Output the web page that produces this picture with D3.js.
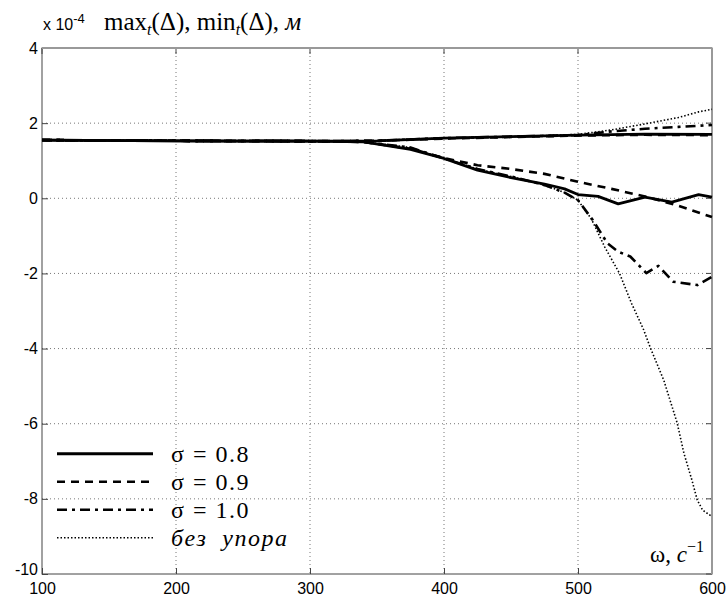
<!DOCTYPE html>
<html>
<head>
<meta charset="utf-8">
<script src="https://cdn.jsdelivr.net/npm/d3@7"></script>
<style>
  body { margin: 0; background: #fff; }
  svg { display: block; }
  .tick text { font-family: "Liberation Sans", Arial, sans-serif; font-size: 16px; fill: #000; }
</style>
</head>
<body>
<div id="chart"></div>
<script>
// values in units of 1e-4 m, omega in 1/s
const xTicks = [100, 200, 300, 400, 500, 600];
const yTicks = [4, 2, 0, -2, -4, -6, -8, -10];

const maxS08 = [[100, 1.55], [200, 1.53], [300, 1.52], [350, 1.53], [400, 1.6], [450, 1.64], [500, 1.68], [550, 1.71], [600, 1.70]];
const maxS09 = [[100, 1.55], [200, 1.53], [300, 1.52], [350, 1.53], [400, 1.59], [450, 1.63], [500, 1.67], [550, 1.69], [600, 1.68]];
const maxS10 = [[100, 1.55], [200, 1.53], [300, 1.52], [350, 1.53], [400, 1.6], [450, 1.64], [500, 1.68], [525, 1.78], [550, 1.85], [575, 1.9], [600, 1.95]];
const maxFree = [[100, 1.55], [200, 1.53], [300, 1.52], [350, 1.53], [400, 1.6], [450, 1.64], [500, 1.7], [525, 1.82], [550, 1.98], [575, 2.15], [590, 2.3], [600, 2.37]];

const minS08 = [[100, 1.55], [200, 1.53], [300, 1.52], [340, 1.5], [375, 1.3], [400, 1.06], [425, 0.75], [450, 0.55], [475, 0.38], [490, 0.25], [500, 0.1], [515, 0.05], [530, -0.15], [550, 0.03], [570, -0.1], [590, 0.1], [600, 0.03]];
const minS09 = [[100, 1.55], [200, 1.53], [300, 1.52], [340, 1.5], [375, 1.32], [400, 1.07], [425, 0.88], [450, 0.78], [475, 0.65], [500, 0.44], [525, 0.25], [550, 0.05], [575, -0.2], [600, -0.5]];
const minS10 = [[100, 1.55], [200, 1.53], [300, 1.52], [340, 1.5], [375, 1.35], [400, 1.06], [425, 0.78], [450, 0.58], [475, 0.35], [490, 0.15], [500, -0.05], [511, -0.58], [522, -1.2], [530, -1.42], [539, -1.55], [551, -1.99], [560, -1.8], [571, -2.22], [589, -2.31], [600, -2.09]];
const minFree = [[100, 1.55], [200, 1.53], [300, 1.52], [340, 1.5], [375, 1.35], [400, 1.06], [425, 0.78], [450, 0.58], [475, 0.35], [490, 0.15], [500, -0.05], [510, -0.55], [520, -1.3], [531, -2.0], [540, -2.8], [549, -3.5], [554, -3.98], [564, -4.84], [574, -5.98], [579, -6.78], [585, -7.5], [589, -8.03], [593, -8.3], [600, -8.47]];

const legendLabels = ["σ = 0.8", "σ = 0.9", "σ = 1.0", "без  упора"];

const styles = [
  { dash: null, width: 2.8 },
  { dash: "8,6", width: 2.6 },
  { dash: "10,5,3,5", width: 2.6 },
  { dash: "1.5,2", width: 1.6 }
];

const series = [
  { style: 0, data: maxS08 }, { style: 1, data: maxS09 }, { style: 2, data: maxS10 }, { style: 3, data: maxFree },
  { style: 3, data: minFree }, { style: 2, data: minS10 }, { style: 1, data: minS09 }, { style: 0, data: minS08 }
];

const margin = { top: 48, right: 16, bottom: 27, left: 42 };
const W = 728, H = 601;
const width = W - margin.left - margin.right;
const height = H - margin.top - margin.bottom;

const svg = d3.select("#chart").append("svg")
  .attr("width", W)
  .attr("height", H);

const g = svg.append("g")
  .attr("transform", "translate(" + margin.left + "," + margin.top + ")");

const x = d3.scaleLinear().domain([100, 600]).range([0, width]);
const y = d3.scaleLinear().domain([-10, 4]).range([height, 0]);

// grid
g.append("g").selectAll("line")
  .data(xTicks.slice(1, -1))
  .join("line")
  .attr("x1", d => x(d)).attr("x2", d => x(d))
  .attr("y1", 0).attr("y2", height)
  .attr("stroke", "#777").attr("stroke-width", 1).attr("stroke-dasharray", "1,3");

g.append("g").selectAll("line")
  .data(yTicks.slice(1, -1))
  .join("line")
  .attr("x1", 0).attr("x2", width)
  .attr("y1", d => y(d)).attr("y2", d => y(d))
  .attr("stroke", "#777").attr("stroke-width", 1).attr("stroke-dasharray", "1,3");

// axes
const xAxis = d3.axisBottom(x).tickValues(xTicks).tickSize(-6).tickPadding(4).tickFormat(d3.format("d"));
const yAxis = d3.axisLeft(y).tickValues(yTicks).tickSize(-6).tickPadding(4).tickFormat(d => d3.format("d")(d).replace("−", "-"));

const xg = g.append("g").attr("transform", "translate(0," + height + ")").call(xAxis);
const yg = g.append("g").call(yAxis);
[xg, yg].forEach(a => {
  a.select(".domain").remove();
  a.selectAll(".tick line").attr("stroke", "#444");
});
xg.selectAll(".tick text").attr("dy", "1.0em");
yg.selectAll(".tick text").filter(d => d === -10).attr("dy", "0.0em");

// top and right ticks
g.append("g").selectAll("line").data(xTicks).join("line")
  .attr("x1", d => x(d)).attr("x2", d => x(d)).attr("y1", 0).attr("y2", 6).attr("stroke", "#444");
g.append("g").selectAll("line").data(yTicks).join("line")
  .attr("x1", width).attr("x2", width - 6).attr("y1", d => y(d)).attr("y2", d => y(d)).attr("stroke", "#444");

// box
g.append("rect")
  .attr("width", width).attr("height", height)
  .attr("fill", "none").attr("stroke", "#444").attr("stroke-width", 1);
g.append("line").attr("x1", width).attr("x2", width).attr("y1", 0).attr("y2", height)
  .attr("stroke", "#999").attr("stroke-width", 2);
g.append("line").attr("x1", 0).attr("x2", width).attr("y1", 0).attr("y2", 0)
  .attr("stroke", "#999").attr("stroke-width", 2);

// curves
const line = d3.line().x(d => x(d[0])).y(d => y(d[1]));
g.append("g").selectAll("path")
  .data(series)
  .join("path")
  .attr("d", d => line(d.data))
  .attr("fill", "none")
  .attr("stroke", "#000")
  .attr("stroke-width", d => styles[d.style].width)
  .attr("stroke-dasharray", d => styles[d.style].dash)
  .attr("stroke-linejoin", "round");

// legend
const leg = g.append("g").attr("transform", "translate(15," + (y(-6.8)) + ")");
const rows = leg.selectAll("g").data(legendLabels).join("g")
  .attr("transform", (d, i) => "translate(0," + (i * 28) + ")");
rows.append("line")
  .attr("x1", 0).attr("x2", 96).attr("y1", 0).attr("y2", 0)
  .attr("stroke", "#000")
  .attr("stroke-width", (d, i) => styles[i].width)
  .attr("stroke-dasharray", (d, i) => styles[i].dash);
rows.append("text")
  .attr("x", 114).attr("y", 0).attr("dy", "0.35em")
  .attr("font-family", "'Liberation Serif', 'Times New Roman', serif")
  .attr("font-size", 24)
  .attr("letter-spacing", 1.5)
  .attr("font-style", (d, i) => i === 3 ? "italic" : "normal")
  .style("white-space", "pre")
  .text(d => d);

// exponent label
svg.append("text")
  .attr("x", 43).attr("y", 30)
  .attr("font-family", "'Liberation Sans', Arial, sans-serif")
  .attr("font-size", 16)
  .text("x 10")
  .append("tspan").attr("dy", -7).attr("font-size", 13).text("-4");

// title
const title = svg.append("text")
  .attr("x", 104).attr("y", 30)
  .attr("font-family", "'Liberation Serif', 'Times New Roman', serif")
  .attr("font-size", 25);
title.append("tspan").text("max");
title.append("tspan").attr("font-size", 16).attr("font-style", "italic").attr("dy", 5).text("t");
title.append("tspan").attr("dy", -5).text("(Δ), min");
title.append("tspan").attr("font-size", 16).attr("font-style", "italic").attr("dy", 5).text("t");
title.append("tspan").attr("dy", -5).text("(Δ), ");
title.append("tspan").attr("font-style", "italic").text("м");

// x axis label
const xl = g.append("text")
  .attr("x", width - 8).attr("y", height - 12)
  .attr("text-anchor", "end")
  .attr("font-family", "'Liberation Serif', 'Times New Roman', serif")
  .attr("font-size", 23);
xl.append("tspan").text("ω, ");
xl.append("tspan").attr("font-style", "italic").text("c");
xl.append("tspan").attr("dy", -10).attr("font-size", 16).text("−1");
</script>
</body>
</html>
